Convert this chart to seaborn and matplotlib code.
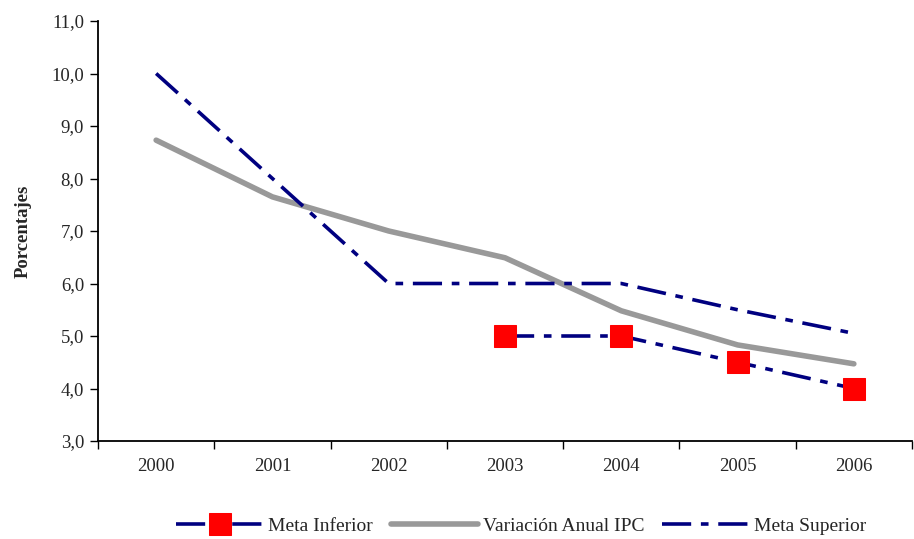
import matplotlib
matplotlib.use("Agg")
import matplotlib.pyplot as plt
import seaborn as sns
import pandas as pd
import numpy as np
from matplotlib.ticker import FixedLocator, FuncFormatter

years = ['2000', '2001', '2002', '2003', '2004', '2005', '2006']
ipc = [8.73, 7.65, 7.0, 6.49, 5.48, 4.83, 4.47]
meta_superior = [10.0, 8.0, 6.0, 6.0, 6.0, 5.5, 5.05]
meta_inferior = [np.nan, np.nan, np.nan, 5.0, 5.0, 4.5, 4.0]

sns.set_style('white')
plt.rcParams['font.family'] = ['Liberation Serif', 'DejaVu Serif']
plt.rcParams['lines.scale_dashes'] = False

x = np.arange(len(years))
df = pd.DataFrame({'x': x, 'ipc': ipc, 'sup': meta_superior, 'inf': meta_inferior})

fig = plt.figure(figsize=(9.14, 5.39), dpi=100)
ax = fig.add_axes([98/914, 98/539, 814/914, 420/539])

dashdot = (0, (21, 7, 5.5, 7))
sns.lineplot(data=df, x='x', y='inf', ax=ax, color='#000080', linewidth=2.6,
             linestyle=dashdot, marker='s', markersize=16, markerfacecolor='#ff0000',
             markeredgecolor='#ff0000', label='Meta Inferior')
sns.lineplot(data=df, x='x', y='ipc', ax=ax, color='#999999', linewidth=4,
             solid_capstyle='round', label='Variación Anual IPC')
sns.lineplot(data=df, x='x', y='sup', ax=ax, color='#000080', linewidth=2.6,
             linestyle=dashdot, label='Meta Superior')
ax.lines[0].set_zorder(5)

ax.set_xlim(-0.5, len(years) - 0.5)
ax.set_ylim(3, 11)
ax.set_yticks(np.arange(3, 11.01, 1))
ax.yaxis.set_major_formatter(FuncFormatter(lambda v, p: f'{v:.1f}'.replace('.', ',')))
ax.set_xticks(x)
ax.set_xticklabels(years)
ax.xaxis.set_minor_locator(FixedLocator(np.arange(-0.5, len(years), 1)))
ax.tick_params(axis='x', which='major', bottom=False, length=0, pad=12, labelsize=13.5)
ax.tick_params(axis='x', which='minor', bottom=True, length=6, width=1, direction='out', color='black')
ax.tick_params(axis='y', left=True, length=6, width=1, direction='out', color='black', labelsize=13.5, pad=4)
ax.set_xlabel('')
ax.set_ylabel('Porcentajes', fontweight='bold', fontsize=13.5, labelpad=14)

for s in ['top', 'right']:
    ax.spines[s].set_visible(False)
for s in ['left', 'bottom']:
    ax.spines[s].set_color('black')
    ax.spines[s].set_linewidth(1.3)

ax.legend(loc='upper center', bbox_to_anchor=(0.52, -0.14), ncol=3, frameon=False,
          fontsize=14, handlelength=4.5, handletextpad=0.25, columnspacing=0.9)

fig.savefig('out.png', dpi=100)
